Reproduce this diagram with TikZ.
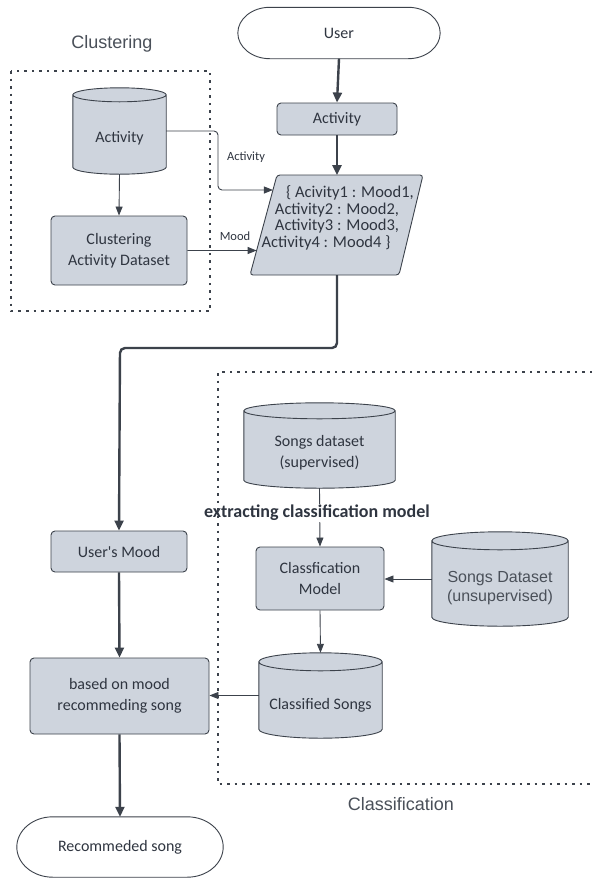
\documentclass[tikz,border=0pt]{standalone}
\usepackage{fontspec}
\setmainfont{Liberation Sans}
\newfontfamily\handfont{Carlito}
\usetikzlibrary{arrows.meta,calc}
\definecolor{fillc}{HTML}{CED4DD}
\definecolor{linec}{HTML}{3C424B}
\definecolor{textc}{HTML}{2F3540}
\definecolor{graytxt}{HTML}{4A5059}
\tikzset{
  txt/.style={font=\handfont\fontsize{16}{21}\selectfont, text=textc, align=center, inner sep=0pt},
  smalltxt/.style={font=\handfont\fontsize{12.5}{14}\selectfont, text=textc, inner sep=0pt},
  sanstxt/.style={font=\fontsize{16}{18.5}\selectfont, text=graytxt, align=center, inner sep=0pt},
  titletxt/.style={font=\fontsize{18}{20}\selectfont, text=graytxt, inner sep=0pt},
  proc/.style={rectangle, rounded corners=4pt, draw=linec, fill=fillc, line width=0.9pt, txt},
  shapebox/.style={rectangle, draw=none, inner sep=0pt},
  cylpath/.style={draw=linec, fill=fillc, line width=0.9pt},
  termpath/.style={draw=linec, fill=white, line width=0.9pt},
  frame/.style={draw=linec, line width=1.3pt, dash pattern=on 2.5pt off 5pt},
  thinarrow/.style={draw=linec, line width=0.9pt, -{Triangle[length=9pt,width=7pt]}},
  thickarrow/.style={draw=linec, line width=2.4pt, -{Triangle[length=10pt,width=9pt]}},
}
\newcommand\cylshape[2]{%
  \path[cylpath] let \p1=(#1.north west), \p2=(#1.south east), \n1={(\x2-\x1)/2} in
   (\x1,\y1-#2pt) -- (\x1,\y2+#2pt) arc[start angle=180,end angle=360,x radius=\n1,y radius=#2pt]
   -- (\x2,\y1-#2pt) arc[start angle=0,end angle=180,x radius=\n1,y radius=#2pt] -- cycle
   (\x1,\y1-#2pt) arc[start angle=180,end angle=360,x radius=\n1,y radius=#2pt];
}
\newcommand\termshape[2]{%
  \path[termpath] let \p1=(#1.north west), \p2=(#1.south east), \n2={(\y1-\y2)/2} in
   (\x1+#2pt,\y1) -- (\x2-#2pt,\y1) arc[start angle=90,end angle=-90,x radius=#2pt,y radius=\n2]
   -- (\x1+#2pt,\y2) arc[start angle=270,end angle=90,x radius=#2pt,y radius=\n2] -- cycle;
}
\begin{document}
\begin{tikzpicture}[x=1pt,y=1pt]
\useasboundingbox[fill=white] (0,0) rectangle (592,-879);

% titles
\node[titletxt] (clustitle) at (112,-44) {Clustering};
\node[titletxt] (classtitle) at (401,-804) {Classification};

% terminals
\node[shapebox, minimum width=202pt, minimum height=51pt] (user) at (339,-33) {};
\termshape{user}{32}
\node[txt] (usert) at (user.center) {User};
\node[shapebox, minimum width=206pt, minimum height=60pt] (rec) at (120,-847) {};
\termshape{rec}{36}
\node[txt] (rect) at (rec.center) {Recommeded song};

% process boxes
\node[proc, minimum width=120pt, minimum height=32pt] (act) at (337,-119) {Activity};
\node[proc, minimum width=136pt, minimum height=69pt] (clus) at (119,-250.5) {Clustering\\Activity Dataset};
\node[proc, minimum width=136pt, minimum height=41pt] (umood) at (119,-551.5) {User's Mood};
\node[proc, minimum width=179pt, minimum height=76pt] (based) at (119.5,-696) {based on mood\\recommeding song};
\node[proc, minimum width=128pt, minimum height=63pt] (cmodel) at (320,-578.5) {Classfication\\Model};

% parallelogram
\coordinate (mapTL) at (277,-175);
\coordinate (mapTR) at (423,-175);
\coordinate (mapBR) at (399,-275);
\coordinate (mapBL) at (250,-275);
\path[draw=linec, fill=fillc, line width=0.9pt, rounded corners=3pt] (mapTL) -- (mapTR) -- (mapBR) -- (mapBL) -- cycle;
\node[txt, font=\handfont\fontsize{16.5}{16.5}\selectfont] (map) at (337,-218)
  {\hspace*{26pt}\{ Acivity1 : Mood1,\\Activity2 : Mood2,\\Activity3 : Mood3,\hspace*{6pt}\\Activity4 : Mood4 \}\hspace*{22pt}};
\coordinate (mapT) at (337,-175);
\coordinate (mapB) at (337,-275);

% cylinders
\node[shapebox, minimum width=93pt, minimum height=86pt] (actdb) at (119.5,-131) {};
\cylshape{actdb}{7}
\node[txt] (actdbt) at (119.5,-138) {Activity};

\node[shapebox, minimum width=151pt, minimum height=85pt] (songsup) at (319.5,-445.5) {};
\cylshape{songsup}{8}
\node[txt] (songsupt) at (319.5,-453) {Songs dataset\\(supervised)};

\node[shapebox, minimum width=136pt, minimum height=94pt] (songun) at (500,-579) {};
\cylshape{songun}{9}
\node[sanstxt] (songunt) at (500,-588) {Songs Dataset\\(unsupervised)};

\node[shapebox, minimum width=123pt, minimum height=85pt] (clsongs) at (320.5,-695.5) {};
\cylshape{clsongs}{9}
\node[txt] (clsongst) at (320.5,-705) {Classified Songs};

% thick flow
\draw[thickarrow] (user.south) -- (act.north);
\draw[thickarrow] (act.south) -- (mapT);
\draw[thickarrow, rounded corners=5pt] (mapB) -- (337,-348) -- (120,-348) -- (umood.north);
\draw[thickarrow] (umood.south) -- (based.north);
\draw[thickarrow] (based.south) -- (rec.north);

% thin connectors
\draw[thinarrow] (actdb.south) -- (clus.north);
\coordinate (mapA) at ($(mapTL)!0.15!(mapBL)$);
\coordinate (mapM) at ($(mapTL)!0.755!(mapBL)$);
\draw[thinarrow, rounded corners=4pt] (actdb.east) -- (218,-131) -- (218,-190) -- (mapA);
\node[smalltxt] (lblact) at (246,-157) {Activity};
\draw[thinarrow] (clus.east) -- (mapM);
\node[smalltxt] (lblmood) at (235,-236) {Mood};

\draw[thinarrow] (songsup.south) -- (cmodel.north);
\node[txt, font=\handfont\bfseries\fontsize{18}{19}\selectfont, fill=white, inner sep=1pt] (lblext) at (317,-513) {extracting classification model};
\draw[thinarrow] (songun.west) -- (songun.west -| cmodel.east);
\draw[thinarrow] (cmodel.south) -- (clsongs.north);
\draw[thinarrow] (clsongs.west) -- (clsongs.west -| based.east);

% frames
\draw[frame] (11,-71) rectangle (210,-311);
\draw[frame] (592,-372) -- (218,-372) -- (218,-784) -- (592,-784);
\end{tikzpicture}
\end{document}
